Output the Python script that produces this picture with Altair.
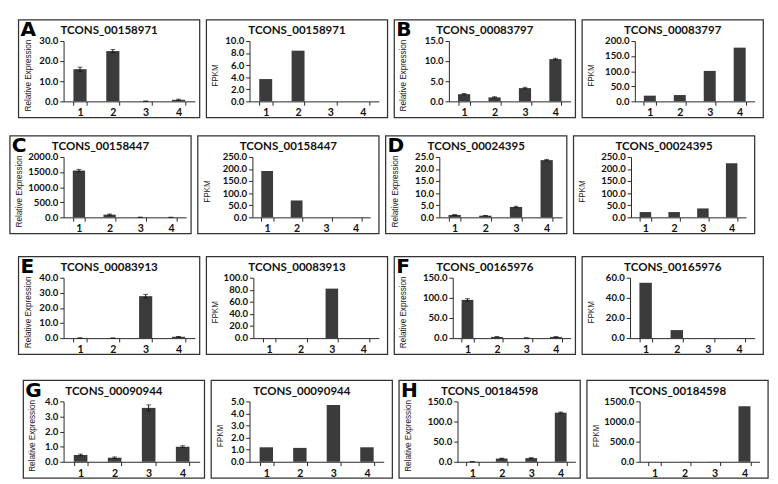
import altair as alt
import pandas as pd

categories = ["1", "2", "3", "4"]
letters = ["A", "B", "C", "D", "E", "F", "G", "H"]
genes = ["TCONS_00158971", "TCONS_00083797", "TCONS_00158447", "TCONS_00024395",
         "TCONS_00083913", "TCONS_00165976", "TCONS_00090944", "TCONS_00184598"]

# Relative expression (qRT-PCR) with error bars
re_A = [16.0, 25.0, 0.1, 0.8];     err_A = [1.0, 0.8, 0.05, 0.3]
re_B = [1.8, 1.0, 3.3, 10.5];      err_B = [0.15, 0.15, 0.2, 0.2]
re_C = [1550.0, 90.0, 3.0, 1.0];   err_C = [40.0, 20.0, 1.0, 0.5]
re_D = [1.0, 0.7, 4.3, 23.7];      err_D = [0.2, 0.1, 0.3, 0.3]
re_E = [0.1, 0.05, 27.8, 0.9];     err_E = [0.05, 0.02, 1.2, 0.2]
re_F = [95.0, 3.0, 0.5, 3.0];      err_F = [3.0, 0.6, 0.2, 0.5]
re_G = [0.45, 0.27, 3.57, 1.0];    err_G = [0.06, 0.05, 0.2, 0.06]
re_H = [0.3, 8.0, 9.0, 122.0];     err_H = [0.1, 1.0, 1.2, 1.5]

# FPKM (RNA-seq)
fpkm_A = [3.7, 8.4, 0.0, 0.0]
fpkm_B = [19.0, 21.0, 101.0, 178.0]
fpkm_C = [192.0, 70.0, 0.5, 0.3]
fpkm_D = [22.0, 22.0, 37.0, 224.0]
fpkm_E = [0.0, 0.0, 82.0, 0.2]
fpkm_F = [55.0, 8.0, 0.1, 0.1]
fpkm_G = [1.2, 1.15, 4.7, 1.2]
fpkm_H = [1.0, 2.0, 2.0, 1380.0]

re_max = [30, 15, 2000, 25, 40, 150, 4, 150]
re_step = [10, 5, 500, 5, 10, 50, 1, 50]
fpkm_max = [10, 200, 250, 250, 100, 60, 5, 1500]
fpkm_step = [2, 50, 50, 50, 20, 20, 1, 500]

re_list = [re_A, re_B, re_C, re_D, re_E, re_F, re_G, re_H]
err_list = [err_A, err_B, err_C, err_D, err_E, err_F, err_G, err_H]
fpkm_list = [fpkm_A, fpkm_B, fpkm_C, fpkm_D, fpkm_E, fpkm_F, fpkm_G, fpkm_H]

# layout (distance from box left edge to y axis)
re_left = [47, 57, 56, 56, 47, 61, 42, 61]
fpkm_left = [45, 55, 57, 60, 49, 50, 40, 55]

BW = 189
T, H, B = 22, 63, 17
BAR = "#3b3b3b"
INK = "#222222"


def panel(gene, values, errors, ylabel, ymax, step, L, R, letter=None):
    W = BW - L - R
    ticks = [i * step for i in range(int(round(ymax / step)) + 1)]
    yscale = alt.Scale(domain=[0, ymax], nice=False)
    xscale = alt.Scale(paddingInner=0.6, paddingOuter=0.3)
    xaxis = alt.Axis(labelAngle=0, tickBand="extent", tickSize=4,
                     labelFont="Lato", labelFontWeight="bold",
                     labelFontSize=11, labelPadding=2,
                     labelColor="#111", domainColor=INK,
                     tickColor=INK, grid=False)
    yaxis = alt.Axis(values=ticks, format=".1f", title=ylabel,
                     titleX=-L + 9, titleY=H / 2 + 4, titleAngle=-90,
                     titleAlign="center", titleBaseline="middle",
                     titleFont="Liberation Sans", titleFontSize=8.5,
                     titleFontWeight="normal", titleColor=INK,
                     labelFont="Lato", labelFontWeight="bold",
                     labelFontSize=10, labelColor="#111",
                     tickSize=4, labelPadding=2,
                     domainColor=INK, tickColor=INK, grid=False)
    xenc = alt.X("cat:N", sort=categories, title=None, scale=xscale, axis=xaxis)
    df = pd.DataFrame({"cat": categories, "val": values})
    frame = alt.Chart(pd.DataFrame({"f": [0]})).mark_rect(
        fill="transparent", stroke="#333333", strokeWidth=1.3
    ).encode(x=alt.value(-L), x2=alt.value(W + R), y=alt.value(-T), y2=alt.value(H + B))
    bars = alt.Chart(df).mark_bar(color=BAR).encode(
        x=xenc, y=alt.Y("val:Q", scale=yscale, axis=yaxis, title=ylabel))
    title = alt.Chart(pd.DataFrame({"t": [gene]})).mark_text(
        font="Lato", fontWeight="bold", fontSize=12, color="#111",
        align="center", baseline="middle"
    ).encode(text="t:N", x=alt.value((W + R - L) / 2), y=alt.value(-T + 11))
    layers = [frame, bars]
    if errors is not None:
        edf = pd.DataFrame({"cat": categories,
                            "lo": [v - e for v, e in zip(values, errors)],
                            "hi": [v + e for v, e in zip(values, errors)]})
        rule = alt.Chart(edf).mark_rule(color="#111", strokeWidth=1).encode(
            x=xenc, y=alt.Y("lo:Q", scale=yscale, axis=yaxis, title=ylabel), y2="hi:Q")
        cap_hi = alt.Chart(edf).mark_tick(color="#111", size=5, thickness=1).encode(
            x=xenc, y=alt.Y("hi:Q", scale=yscale, axis=yaxis, title=ylabel))
        cap_lo = alt.Chart(edf).mark_tick(color="#111", size=5, thickness=1).encode(
            x=xenc, y=alt.Y("lo:Q", scale=yscale, axis=yaxis, title=ylabel))
        layers += [rule, cap_lo, cap_hi]
    layers.append(title)
    if letter is not None:
        lt = alt.Chart(pd.DataFrame({"l": [letter]})).mark_text(
            font="DejaVu Sans", fontWeight="bold", fontSize=21, color="#000",
            align="left", baseline="top"
        ).encode(text="l:N", x=alt.value(-L + 2), y=alt.value(-T))
        layers.append(lt)
    return alt.layer(*layers).properties(width=W, height=H)


panels = []
for i in range(8):
    panels.append(panel(genes[i], re_list[i], err_list[i], "Relative  Expression",
                        re_max[i], re_step[i], re_left[i], 5, letters[i]))
    panels.append(panel(genes[i], fpkm_list[i], None, "FPKM",
                        fpkm_max[i], fpkm_step[i], fpkm_left[i], 9))

rows = [alt.hconcat(*panels[r * 4:(r + 1) * 4], spacing=3) for r in range(4)]

chart = alt.vconcat(
    alt.vconcat(alt.vconcat(rows[0], rows[1], spacing=15), rows[2], spacing=20),
    rows[3], spacing=23
).properties(padding=0).configure_view(stroke="transparent")

chart.save("out.html", embed_options={"renderer": "svg", "actions": False})
